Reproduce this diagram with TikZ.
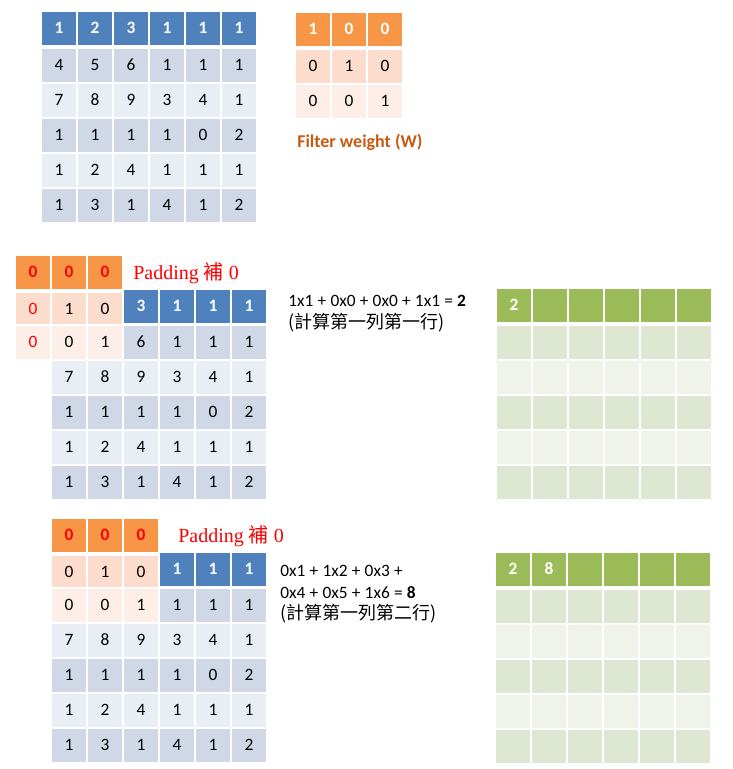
\documentclass[tikz,border=0pt]{standalone}
\usepackage{fontspec}
\setmainfont{Carlito}
\newfontfamily\padfont{Liberation Serif}
\newfontfamily\cjk{Noto Sans CJK TC}
\usepackage{xcolor}
\definecolor{bluehead}{HTML}{4F81BD}
\definecolor{bluedark}{HTML}{D0D8E8}
\definecolor{bluelight}{HTML}{E9EDF4}
\definecolor{orangehead}{HTML}{F79646}
\definecolor{orangedark}{HTML}{FBDCCD}
\definecolor{orangelight}{HTML}{FDEEE7}
\definecolor{greenhead}{HTML}{9BBB59}
\definecolor{greendark}{HTML}{DEE7D1}
\definecolor{greenlight}{HTML}{EFF3EA}
\definecolor{filterbrown}{HTML}{C55A11}
\usetikzlibrary{positioning}

\begin{document}
\begin{tikzpicture}[x=0.75pt,y=-0.75pt,
  cell/.style={draw=white,line width=1.5pt,minimum width=27pt,minimum height=26.25pt,
    inner sep=0pt,font=\fontsize{13}{15}\selectfont},
  head/.style={cell,font=\fontsize{13}{15}\selectfont\bfseries,text=white},
  note/.style={anchor=base west,inner sep=0pt,font={\fontsize{13}{15}\selectfont\spaceskip=3.2pt\relax}},
  notecjk/.style={anchor=base west,inner sep=0pt,font=\cjk\fontsize{13.5}{15}\selectfont},
  padtext/.style={anchor=base west,inner sep=0pt,text=red,font=\padfont\fontsize{15}{17}\selectfont}]
  \useasboundingbox (0,0) rectangle (733,769);

  % --- Matrice d'entree ---
  \foreach \v [count=\c] in {1,2,3,1,1,1}
    \node[head,fill=bluehead] (in-0-\c) at ({23+36*\c},28) {\v};
  \foreach \row [count=\r] in {{4,5,6,1,1,1},{7,8,9,3,4,1},{1,1,1,1,0,2},{1,2,4,1,1,1},{1,3,1,4,1,2}}{
    \ifodd\r\def\band{bluedark}\else\def\band{bluelight}\fi
    \foreach \v [count=\c] in \row
      \node[cell,fill=\band] (in-\r-\c) at ({23+36*\c},{30+35*\r}) {\v};
  }

  % --- Filtre ---
  \foreach \v [count=\c] in {1,0,0}
    \node[head,fill=orangehead] (w-0-\c) at ({277+36*\c},29) {\v};
  \foreach \v [count=\c] in {0,1,0}
    \node[cell,fill=orangedark] (w-1-\c) at ({277+36*\c},66) {\v};
  \foreach \v [count=\c] in {0,0,1}
    \node[cell,fill=orangelight] (w-2-\c) at ({277+36*\c},101) {\v};
  \node[anchor=base west,inner sep=0pt,text=filterbrown,font=\fontsize{13.5}{15}\selectfont\bfseries]
    (wlabel) at (297,147) {Filter weight (W)};

  % --- Etape 1 : padding + premiere position ---
  \foreach \v [count=\c from 3] in {3,1,1,1}
    \node[head,fill=bluehead] (a-0-\c) at ({33+36*\c},306) {\v};
  \foreach \v [count=\c from 3] in {6,1,1,1}
    \node[cell,fill=bluedark] (a-1-\c) at ({33+36*\c},342) {\v};
  \foreach \row [count=\r from 2] in {{7,8,9,3,4,1},{1,1,1,1,0,2},{1,2,4,1,1,1},{1,3,1,4,1,2}}{
    \ifodd\r\def\band{bluedark}\else\def\band{bluelight}\fi
    \foreach \v [count=\c] in \row
      \node[cell,fill=\band] (a-\r-\c) at ({33+36*\c},{307+35*\r}) {\v};
  }
  \foreach \c in {1,2,3}
    \node[head,fill=orangehead,text=red] (pa-0-\c) at ({-3+36*\c},272) {0};
  \foreach \v [count=\c] in {\textcolor{red}{0},1,0}
    \node[cell,fill=orangedark] (pa-1-\c) at ({-3+36*\c},309) {\v};
  \foreach \v [count=\c] in {\textcolor{red}{0},0,1}
    \node[cell,fill=orangelight] (pa-2-\c) at ({-3+36*\c},342) {\v};
  \node[padtext] (padA) at (133,279) {Padding {\cjk 補} 0};
  \node[note] (sumA1) at (288,306) {1x1 + 0x0 + 0x0 + 1x1 = \textbf{2}};
  \node[notecjk] (sumA2) at (288,328) {(計算第一列第一行)};

  % --- Sortie 1 ---
  \foreach \v [count=\c] in {2,{},{},{},{},{}}
    \node[head,fill=greenhead] (oa-0-\c) at ({478+36*\c},305) {\v};
  \foreach \r in {1,...,5}{
    \ifodd\r\def\band{greendark}\else\def\band{greenlight}\fi
    \foreach \c in {1,...,6}
      \node[cell,fill=\band] (oa-\r-\c) at ({478+36*\c},{307+35*\r}) {};
  }

  % --- Etape 2 : deuxieme position ---
  \foreach \v [count=\c from 4] in {1,1,1}
    \node[head,fill=bluehead] (b-0-\c) at ({33+36*\c},569) {\v};
  \foreach \v [count=\c from 4] in {1,1,1}
    \node[cell,fill=bluedark] (b-1-\c) at ({33+36*\c},605) {\v};
  \foreach \row [count=\r from 2] in {{7,8,9,3,4,1},{1,1,1,1,0,2},{1,2,4,1,1,1},{1,3,1,4,1,2}}{
    \ifodd\r\def\band{bluedark}\else\def\band{bluelight}\fi
    \foreach \v [count=\c] in \row
      \node[cell,fill=\band] (b-\r-\c) at ({33+36*\c},{570+35*\r}) {\v};
  }
  \foreach \c in {1,2,3}
    \node[head,fill=orangehead,text=red] (pb-0-\c) at ({33+36*\c},535) {0};
  \foreach \v [count=\c] in {0,1,0}
    \node[cell,fill=orangedark] (pb-1-\c) at ({33+36*\c},572) {\v};
  \foreach \v [count=\c] in {0,0,1}
    \node[cell,fill=orangelight] (pb-2-\c) at ({33+36*\c},605) {\v};
  \node[padtext] (padB) at (178,542) {Padding {\cjk 補} 0};
  \node[note] (sumB1) at (280,576) {0x1 + 1x2 + 0x3 +};
  \node[note] (sumB2) at (280,598) {0x4 + 0x5 + 1x6 = \textbf{8}};
  \node[notecjk] (sumB3) at (280,619) {(計算第一列第二行)};

  % --- Sortie 2 ---
  \foreach \v [count=\c] in {2,8,{},{},{},{}}
    \node[head,fill=greenhead] (ob-0-\c) at ({477+36*\c},569) {\v};
  \foreach \r in {1,...,5}{
    \ifodd\r\def\band{greendark}\else\def\band{greenlight}\fi
    \foreach \c in {1,...,6}
      \node[cell,fill=\band] (ob-\r-\c) at ({477+36*\c},{571+35*\r}) {};
  }
\end{tikzpicture}
\end{document}
